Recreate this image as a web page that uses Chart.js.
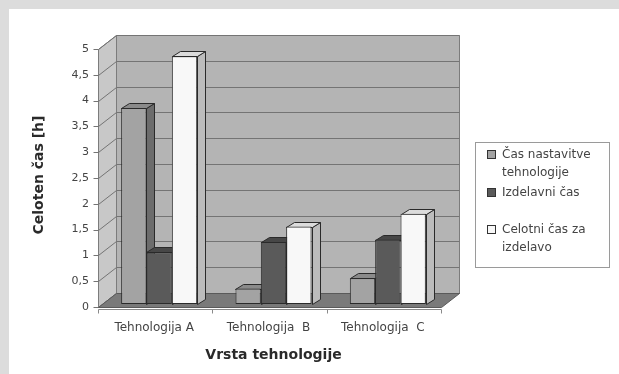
<!DOCTYPE html>
<html>
<head>
<meta charset="utf-8">
<script src="https://cdn.jsdelivr.net/npm/chart.js@4.4.1/dist/chart.umd.min.js"></script>
<style>
  html, body { margin: 0; padding: 0; background: #ffffff; }
  canvas { display: block; }
</style>
</head>
<body>
<canvas id="chart" width="619" height="374"></canvas>
<script>
// Categories and series values (hours)
const categories = ['Tehnologija A', 'Tehnologija  B', 'Tehnologija  C'];
const seriesLegendLines = [['Čas nastavitve', 'tehnologije'], ['Izdelavni čas'], ['Celotni čas za', 'izdelavo']];
const setupTime = [3.8, 0.3, 0.5];
const productionTime = [1.0, 1.2, 1.25];
const totalTime = [4.8, 1.5, 1.75];

// Face colours of the extruded columns: front, top, side
const frontColors = ['#a3a3a3', '#5a5a5a', '#f8f8f8'];
const topColors = ['#8a8a8a', '#474747', '#dcdcdc'];
const sideColors = ['#6c6c6c', '#363636', '#bcbcbc'];

// Depth offsets of the oblique projection, relative to the column front plane
const WALL_FRONT = { dx: -4, dy: 3 };
const WALL_BACK = { dx: 14, dy: -11 };
const BAR_DEPTH = { dx: 8, dy: -5 };

function poly(ctx, pts, fill, stroke) {
  ctx.beginPath();
  ctx.moveTo(pts[0][0], pts[0][1]);
  for (let i = 1; i < pts.length; i++) ctx.lineTo(pts[i][0], pts[i][1]);
  ctx.closePath();
  if (fill) { ctx.fillStyle = fill; ctx.fill(); }
  if (stroke) { ctx.strokeStyle = stroke; ctx.lineWidth = 1; ctx.stroke(); }
}

function seg(ctx, x1, y1, x2, y2, color) {
  ctx.beginPath();
  ctx.moveTo(x1, y1);
  ctx.lineTo(x2, y2);
  ctx.strokeStyle = color;
  ctx.lineWidth = 1;
  ctx.stroke();
}

const scene3d = {
  id: 'scene3d',
  beforeDraw(chart) {
    const ctx = chart.ctx;
    ctx.save();
    ctx.fillStyle = '#ffffff';
    ctx.fillRect(0, 0, chart.width, chart.height);
    ctx.fillStyle = '#dcdcdc';
    ctx.fillRect(0, 0, chart.width, 9);
    ctx.fillRect(0, 0, 9, chart.height);
    ctx.restore();
  },
  beforeDatasetsDraw(chart) {
    const { ctx, chartArea: a, scales: { x, y } } = chart;
    const y0 = Math.round(y.getPixelForValue(0)) + 0.5;
    const yTop = Math.round(y.getPixelForValue(y.max)) + 0.5;
    const fl = Math.round(a.left + WALL_FRONT.dx) + 0.5;
    const fr = Math.round(a.right + WALL_FRONT.dx) + 0.5;
    const bl = Math.round(a.left + WALL_BACK.dx) + 0.5;
    const br = Math.round(a.right + WALL_BACK.dx) + 0.5;
    ctx.save();

    // back wall
    poly(ctx, [[bl, yTop + WALL_BACK.dy], [br, yTop + WALL_BACK.dy], [br, y0 + WALL_BACK.dy], [bl, y0 + WALL_BACK.dy]], '#b4b4b4', '#7c7c7c');
    // side wall
    poly(ctx, [[fl, yTop + WALL_FRONT.dy], [bl, yTop + WALL_BACK.dy], [bl, y0 + WALL_BACK.dy], [fl, y0 + WALL_FRONT.dy]], '#c8c8c8', '#7c7c7c');

    // value gridlines on both walls, plus the small tick marks
    y.ticks.forEach(t => {
      const p = Math.round(y.getPixelForValue(t.value)) + 0.5;
      seg(ctx, bl, p + WALL_BACK.dy, br, p + WALL_BACK.dy, '#747474');
      seg(ctx, fl, p + WALL_FRONT.dy, bl, p + WALL_BACK.dy, '#747474');
      seg(ctx, fl - 5, p + WALL_FRONT.dy, fl, p + WALL_FRONT.dy, '#747474');
    });

    // floor
    poly(ctx, [[fl, y0 + WALL_FRONT.dy], [fr, y0 + WALL_FRONT.dy], [br, y0 + WALL_BACK.dy], [bl, y0 + WALL_BACK.dy]], '#7a7a7a', '#5a5a5a');

    // category axis line with boundary ticks
    const axisY = y0 + WALL_FRONT.dy + 2;
    seg(ctx, fl, axisY, fr, axisY, '#8a8a8a');
    for (let j = 0; j <= categories.length; j++) {
      const bx = Math.round(x.getPixelForValue(j - 0.5) + WALL_FRONT.dx) + 0.5;
      seg(ctx, bx, axisY, bx, axisY + 4, '#8a8a8a');
    }

    // top and side faces of each column, left to right inside every group
    for (let j = 0; j < categories.length; j++) {
      for (let i = 0; i < chart.data.datasets.length; i++) {
        const el = chart.getDatasetMeta(i).data[j];
        const p = el.getProps(['x', 'y', 'base', 'width'], true);
        const l = Math.round(p.x - p.width / 2) + 0.5;
        const r = Math.round(p.x + p.width / 2) + 0.5;
        const top = Math.round(p.y) + 0.5;
        const base = Math.round(p.base) + 0.5;
        const ex = BAR_DEPTH.dx, ey = BAR_DEPTH.dy;
        poly(ctx, [[r, top], [r + ex, top + ey], [r + ex, base + ey], [r, base]], sideColors[i], '#2a2a2a');
        poly(ctx, [[l, top], [r, top], [r + ex, top + ey], [l + ex, top + ey]], topColors[i], '#2a2a2a');
      }
    }
    ctx.restore();
  },
  afterDraw(chart) {
    const ctx = chart.ctx;
    ctx.save();
    // legend box
    ctx.strokeStyle = '#9a9a9a';
    ctx.lineWidth = 1;
    ctx.strokeRect(475.5, 142.5, 134, 125);
    ctx.font = "12px 'DejaVu Sans', sans-serif";
    ctx.fillStyle = '#444444';
    ctx.textBaseline = 'middle';
    ctx.textAlign = 'left';
    const itemY = [155, 193, 230];
    seriesLegendLines.forEach((lines, i) => {
      const yy = itemY[i];
      ctx.fillStyle = frontColors[i];
      ctx.fillRect(487.5, yy - 4.5, 8, 8);
      ctx.strokeStyle = '#333333';
      ctx.strokeRect(487.5, yy - 4.5, 8, 8);
      ctx.fillStyle = '#444444';
      lines.forEach((txt, k) => ctx.fillText(txt, 502, yy + k * 18));
    });
    ctx.restore();
  }
};

Chart.defaults.font.family = "'DejaVu Sans', sans-serif";

const common = { borderColor: '#2a2a2a', borderWidth: 1, borderSkipped: false, barPercentage: 1.0, categoryPercentage: 0.665 };

new Chart(document.getElementById('chart'), {
  type: 'bar',
  data: {
    labels: categories,
    datasets: [
      Object.assign({ label: seriesLegendLines[0].join(' '), data: setupTime, backgroundColor: frontColors[0] }, common),
      Object.assign({ label: seriesLegendLines[1].join(' '), data: productionTime, backgroundColor: frontColors[1] }, common),
      Object.assign({ label: seriesLegendLines[2].join(' '), data: totalTime, backgroundColor: frontColors[2] }, common)
    ]
  },
  options: {
    responsive: false,
    animation: false,
    devicePixelRatio: 1,
    layout: { padding: { left: 24, right: 174, top: 46, bottom: 8 } },
    plugins: { legend: { display: false }, tooltip: { enabled: false } },
    scales: {
      x: {
        grid: { display: false },
        border: { display: false },
        ticks: { color: '#444444', font: { size: 12 }, padding: 9, labelOffset: -5, maxRotation: 0, autoSkip: false },
        title: { display: true, text: 'Vrsta tehnologije', color: '#2a2a2a', font: { size: 14, weight: 'bold' }, padding: { top: 0, bottom: 2 } },
        afterFit(scale) { scale.height = 62; }
      },
      y: {
        min: 0,
        max: 5,
        grid: { display: false, drawTicks: false },
        border: { display: false },
        ticks: {
          stepSize: 0.5,
          color: '#444444',
          font: { size: 11 },
          padding: 13,
          labelOffset: 3,
          callback: v => String(v).replace('.', ',')
        },
        title: { display: true, text: 'Celoten čas [h]', color: '#2a2a2a', font: { size: 14, weight: 'bold' }, padding: { top: 7, bottom: 0 } },
        afterFit(scale) { scale.width = 78; }
      }
    }
  },
  plugins: [scene3d]
});
</script>
</body>
</html>
